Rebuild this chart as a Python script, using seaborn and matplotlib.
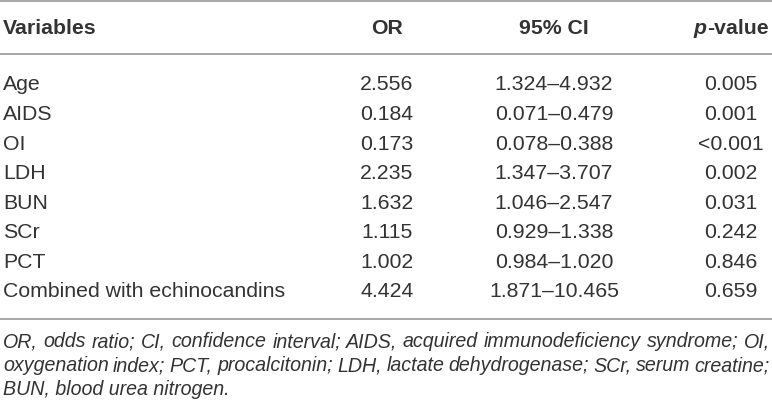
import matplotlib
matplotlib.use("Agg")
import matplotlib.pyplot as plt
import seaborn as sns

# ---- data ----
headers = ["Variables", "OR", "95% CI", "p-value"]
variables = ["Age", "AIDS", "OI", "LDH", "BUN", "SCr", "PCT", "Combined with echinocandins"]
odds_ratio = ["2.556", "0.184", "0.173", "2.235", "1.632", "1.115", "1.002", "4.424"]
ci_95 = ["1.324\u20134.932", "0.071\u20130.479", "0.078\u20130.388", "1.347\u20133.707",
         "1.046\u20132.547", "0.929\u20131.338", "0.984\u20131.020", "1.871\u201310.465"]
p_values = ["0.005", "0.001", "<0.001", "0.002", "0.031", "0.242", "0.846", "0.659"]
footnote_lines = [
    "OR, odds ratio; CI, confidence interval; AIDS, acquired immunodeficiency syndrome; OI,",
    "oxygenation index; PCT, procalcitonin; LDH, lactate dehydrogenase; SCr, serum creatine;",
    "BUN, blood urea nitrogen.",
]

# ---- layout ----
W, H, DPI = 772, 410, 100
sns.set_theme(style="white")
plt.rcParams["font.family"] = ["Liberation Sans", "DejaVu Sans"]

fig = plt.figure(figsize=(W / DPI, H / DPI), dpi=DPI)
ax = fig.add_axes([0, 0, 1, 1])
ax.set_xlim(0, W)
ax.set_ylim(H, 0)
ax.axis("off")

txt_color = "#333333"
rule_color = "#a0a0a0"
body_px = 21.3
body_pt = body_px * 72 / DPI

left_x = 3
col_x = [left_x, 387, 554, 731]
header_y = 28
row_y0, row_dy = 85, 29.55
foot_y0, foot_dy = 342, 23.7
foot_right = 770

for y in (1.5, 55, 320):
    ax.axhline(y, color=rule_color, lw=1.3)

fig.canvas.draw()
rend = fig.canvas.get_renderer()


def text_width(s, **kw):
    t = ax.text(0, 0, s, **kw)
    w = t.get_window_extent(rend).width
    t.remove()
    return w


# header
ax.text(col_x[0], header_y, headers[0], ha="left", va="center", fontsize=body_pt,
        fontweight="bold", color=txt_color)
ax.text(col_x[1], header_y, headers[1], ha="center", va="center", fontsize=body_pt,
        fontweight="bold", color=txt_color)
ax.text(col_x[2], header_y, headers[2], ha="center", va="center", fontsize=body_pt,
        fontweight="bold", color=txt_color)

# p-value header with italic bold "p"
p_head, rest_head = headers[3][0], headers[3][1:]
wp = text_width(p_head, fontsize=body_pt, fontweight="bold", fontstyle="italic")
wv = text_width(rest_head, fontsize=body_pt, fontweight="bold")
start = col_x[3] - (wp + wv) / 2
ax.text(start, header_y, p_head, fontsize=body_pt, fontweight="bold", fontstyle="italic",
        va="center", color=txt_color)
ax.text(start + wp, header_y, rest_head, fontsize=body_pt, fontweight="bold",
        va="center", color=txt_color)

# body rows
for i in range(len(variables)):
    y = row_y0 + i * row_dy
    ax.text(col_x[0], y, variables[i], ha="left", va="center", fontsize=body_pt, color=txt_color)
    ax.text(col_x[1], y, odds_ratio[i], ha="center", va="center", fontsize=body_pt, color=txt_color)
    ax.text(col_x[2], y, ci_95[i], ha="center", va="center", fontsize=body_pt, color=txt_color)
    ax.text(col_x[3], y, p_values[i], ha="center", va="center", fontsize=body_pt, color=txt_color)

# footnote: size chosen so the first line fills the width naturally
fkw = dict(fontstyle="italic")
natural = text_width(footnote_lines[0], fontsize=14, **fkw)
foot_pt = 14 * (foot_right - left_x) / natural
fkw["fontsize"] = foot_pt

for li, line in enumerate(footnote_lines):
    y = foot_y0 + li * foot_dy
    words = line.split(" ")
    if li == len(footnote_lines) - 1:
        ax.text(left_x, y, line, ha="left", va="center", color=txt_color, **fkw)
        continue
    full = text_width(line, **fkw)
    extra = (foot_right - left_x - full) / (len(words) - 1)
    for k, w in enumerate(words):
        upto = " ".join(words[:k + 1])
        x0 = text_width(upto, **fkw) - text_width(w, **fkw)
        ax.text(left_x + x0 + k * extra, y, w, ha="left", va="center",
                color=txt_color, **fkw)

fig.savefig("out.png", dpi=DPI, facecolor="white")
